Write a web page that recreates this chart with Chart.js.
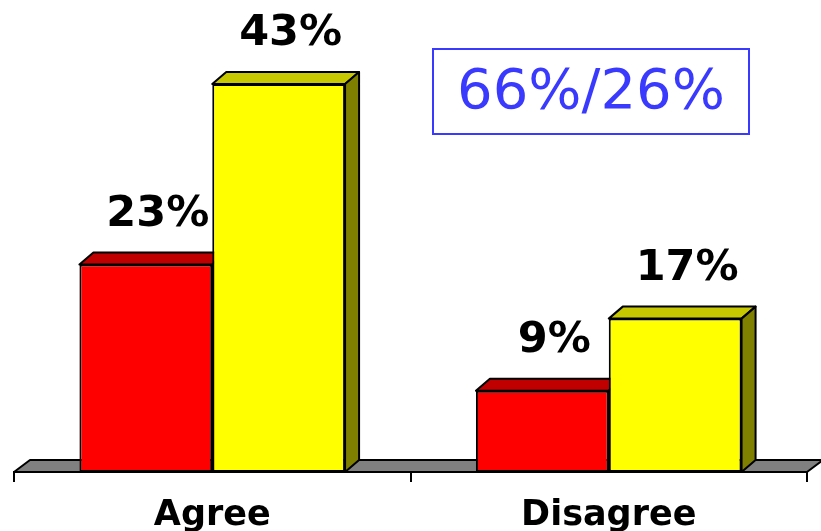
<!DOCTYPE html>
<html><head><meta charset="utf-8">
<script src="https://cdn.jsdelivr.net/npm/chart.js@4"></script>
<style>html,body{margin:0;padding:0;background:#fff}#wrap{width:821px;height:531px}</style>
</head><body><div id="wrap"><canvas id="c" width="821" height="531"></canvas></div>
<script>
const categories = ['Agree', 'Disagree'];
const seriesRed = [23, 9];
const seriesYellow = [43, 17];
const valueLabels = ['%'];
const boxText = '66%/26%';

const DX = 14, DY = 12;
const faceColors = [
  {front: '#ff0000', top: '#c00000', side: '#800000'},
  {front: '#ffff00', top: '#c8c800', side: '#808000'}
];

const threeD = {
  id: 'threeD',
  beforeDatasetsDraw(chart) {
    const ctx = chart.ctx, a = chart.chartArea;
    const y0 = chart.scales.y.getPixelForValue(0);
    ctx.save();
    ctx.lineWidth = 2; ctx.strokeStyle = '#000'; ctx.lineJoin = 'round';
    ctx.beginPath();
    ctx.moveTo(a.left, y0); ctx.lineTo(a.right, y0);
    ctx.lineTo(a.right + DX + 2, y0 - DY); ctx.lineTo(a.left + DX + 2, y0 - DY);
    ctx.closePath();
    ctx.fillStyle = '#808080'; ctx.fill(); ctx.stroke();
    chart.data.datasets.forEach((ds, di) => {
      const meta = chart.getDatasetMeta(di);
      meta.data.forEach(bar => {
        const l = bar.x - bar.width / 2, r = bar.x + bar.width / 2, t = bar.y, b = bar.base;
        ctx.beginPath();
        ctx.moveTo(l, t); ctx.lineTo(l + DX, t - DY); ctx.lineTo(r + DX, t - DY); ctx.lineTo(r, t); ctx.closePath();
        ctx.fillStyle = faceColors[di].top; ctx.fill(); ctx.stroke();
        ctx.beginPath();
        ctx.moveTo(r, t); ctx.lineTo(r + DX, t - DY); ctx.lineTo(r + DX, b - DY); ctx.lineTo(r, b); ctx.closePath();
        ctx.fillStyle = faceColors[di].side; ctx.fill(); ctx.stroke();
      });
    });
    ctx.restore();
  },
  afterDatasetsDraw(chart) {
    const ctx = chart.ctx;
    ctx.save();
    ctx.fillStyle = '#000';
    ctx.font = 'bold 43px "DejaVu Sans"';
    ctx.textAlign = 'center'; ctx.textBaseline = 'middle';
    chart.data.datasets.forEach((ds, di) => {
      chart.getDatasetMeta(di).data.forEach((bar, i) => {
        ctx.fillText(ds.data[i] + valueLabels[0], bar.x + 12, bar.y - 50);
      });
    });
    ctx.strokeStyle = '#3a3aff'; ctx.lineWidth = 2;
    ctx.strokeRect(433, 49, 316, 85);
    ctx.fillStyle = '#3a3aff';
    ctx.font = '56px "DejaVu Sans"';
    ctx.fillText(boxText, 591, 93);
    ctx.restore();
  }
};

new Chart(document.getElementById('c'), {
  type: 'bar',
  data: {
    labels: categories,
    datasets: [
      {data: seriesRed, backgroundColor: faceColors[0].front, borderColor: '#000', borderWidth: 2, borderSkipped: false},
      {data: seriesYellow, backgroundColor: faceColors[1].front, borderColor: '#000', borderWidth: 2, borderSkipped: false}
    ]
  },
  options: {
    responsive: false, animation: false,
    devicePixelRatio: 1,
    layout: {padding: {top: 66, left: 14, right: 14, bottom: 0}},
    plugins: {legend: {display: false}, tooltip: {enabled: false}},
    datasets: {bar: {categoryPercentage: 0.67, barPercentage: 1.0}},
    scales: {
      y: {display: false, min: 0, max: 45},
      x: {
        offset: true,
        afterFit(scale) { scale.height = 59; },
        grid: {offset: true, drawOnChartArea: false, color: '#000', lineWidth: 2, tickLength: 10},
        border: {color: '#000', width: 2},
        ticks: {color: '#000', font: {family: 'DejaVu Sans', weight: 'bold', size: 35}, padding: 13}
      }
    }
  },
  plugins: [threeD]
});
</script></body></html>
